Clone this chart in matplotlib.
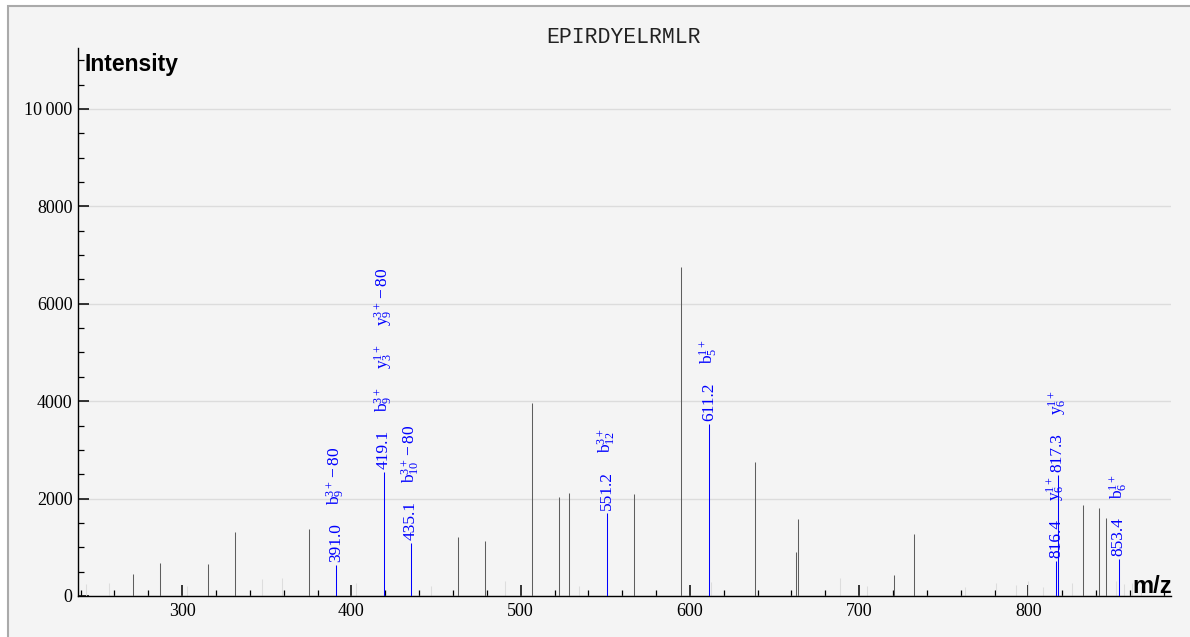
import matplotlib
matplotlib.use("Agg")
import matplotlib.pyplot as plt
from matplotlib.patches import Rectangle
from matplotlib.ticker import MultipleLocator, FuncFormatter

plt.rcParams['font.family'] = ['Liberation Serif', 'DejaVu Serif']
plt.rcParams['mathtext.fontset'] = 'custom'
plt.rcParams['mathtext.rm'] = 'Liberation Serif'
plt.rcParams['mathtext.it'] = 'Liberation Serif:italic'
plt.rcParams['mathtext.bf'] = 'Liberation Serif:bold'

# ---- data ----
peptide = 'EPIRDYELRMLR'

# unassigned peaks (dark grey)
peak_mz = [271.2, 287.2, 315.2, 331.3, 375.2, 462.8, 479.0, 506.9, 522.9, 528.8,
           566.8, 594.7, 638.6, 662.5, 663.7, 720.4, 732.6, 832.4, 841.4, 845.6]
peak_int = [445, 671, 650, 1314, 1369, 1205, 1123, 3956, 2026, 2108,
            2088, 6749, 2752, 897, 1581, 431, 1266, 1875, 1807, 1608]

# faint noise peaks (light grey)
noise_mz = [243.1, 257.1, 303.0, 347.1, 359.1, 403.0, 447.1, 491.0, 534.7, 612.7,
            688.7, 704.4, 762.7, 780.6, 792.4, 799.7, 808.4, 825.9, 851.6, 856.4,
            861.0, 866.2]
noise_int = [246, 274, 205, 356, 376, 260, 205, 315, 205, 287,
             370, 205, 192, 260, 233, 315, 192, 274, 300, 250,
             260, 200]

# annotated fragment ions (blue)
ion_mz = [391.0, 419.1, 435.1, 551.2, 611.2, 816.4, 817.3, 853.4]
ion_int = [630, 2553, 1095, 1698, 3532, 725, 2485, 753]
ion_labels = [
    [r'$\mathrm{b}_{9}^{3+}\,{-}\,80$'],
    [r'$\mathrm{b}_{9}^{3+}$', r'$\mathrm{y}_{3}^{1+}$', r'$\mathrm{y}_{9}^{3+}\,{-}\,80$'],
    [r'$\mathrm{b}_{10}^{3+}\,{-}\,80$'],
    [r'$\mathrm{b}_{12}^{3+}$'],
    [r'$\mathrm{b}_{5}^{1+}$'],
    [r'$\mathrm{y}_{6}^{1+}$'],
    [r'$\mathrm{y}_{6}^{1+}$'],
    [r'$\mathrm{b}_{6}^{1+}$'],
]

W, H = 1190, 637
fig = plt.figure(figsize=(W / 100, H / 100), dpi=100)
fig.patch.set_facecolor('white')

# outer panel frame
frame = Rectangle((8.3 / W, -0.05), 1.1, (H - 6.2) / H + 0.05,
                  transform=fig.transFigure, facecolor='#f4f4f4',
                  edgecolor='#aaaaaa', linewidth=1.5, zorder=0)
fig.add_artist(frame)

ax = fig.add_axes([78 / W, 1 - 596 / H, (1171 - 78) / W, (596 - 48) / H])
ax.set_facecolor('none')

ax.vlines(noise_mz, 0, noise_int, color='#dddddd', linewidth=0.75, zorder=2)
ax.vlines(peak_mz, 0, peak_int, color='#5e5e5e', linewidth=0.75, zorder=3)
ax.vlines(ion_mz, 0, ion_int, color='#0000ff', linewidth=0.75, zorder=4)

ax.set_xlim(238.5, 884.2)
ax.set_ylim(0, 11250)

for s in ['top', 'right']:
    ax.spines[s].set_visible(False)
for s in ['left', 'bottom']:
    ax.spines[s].set_linewidth(1.0)
    ax.spines[s].set_color('black')

ax.xaxis.set_major_locator(MultipleLocator(100))
ax.xaxis.set_minor_locator(MultipleLocator(20))
ax.yaxis.set_major_locator(MultipleLocator(2000))
ax.yaxis.set_minor_locator(MultipleLocator(500))


def fmt_y(v, pos):
    v = int(round(v))
    if v >= 10000:
        return f'{v:,}'.replace(',', '\u2009')
    return str(v)


ax.yaxis.set_major_formatter(FuncFormatter(fmt_y))
ax.tick_params(which='major', direction='in', length=8, width=1.1,
               labelsize=13, colors='black')
ax.tick_params(axis='x', which='major', pad=5)
ax.tick_params(axis='y', which='major', pad=4)
ax.tick_params(which='minor', direction='in', length=4.5, width=0.9)

ax.yaxis.grid(True, color='#dcdcdc', linewidth=1.0)
ax.set_axisbelow(True)

# rotated labels stacked above each assigned peak
renderer = fig.canvas.get_renderer()
px2pt = 72 / fig.dpi
for mz, it, ions in zip(ion_mz, ion_int, ion_labels):
    off = 3
    for piece in [f'{mz:.1f}'] + ions:
        t = ax.annotate(piece, xy=(mz, it), xytext=(0, off * px2pt),
                        textcoords='offset points', rotation=90,
                        ha='center', va='bottom', color='#0000ff',
                        fontsize=12.5, zorder=5)
        bb = t.get_window_extent(renderer)
        off += bb.height + 18

fig.text(624 / W, 1 - 43.3 / H, peptide, ha='center', va='baseline',
         family='Liberation Mono', fontsize=15.5, color='#222222')
fig.text(85 / W, 1 - 71 / H, 'Intensity', ha='left', va='baseline',
         family='Liberation Sans', fontweight='bold', fontsize=16.5)
fig.text(1172 / W, 1 - 593 / H, 'm/z', ha='right', va='baseline',
         family='Liberation Sans', fontweight='bold', fontsize=17)

fig.savefig('out.png', dpi=100, facecolor=fig.get_facecolor())
